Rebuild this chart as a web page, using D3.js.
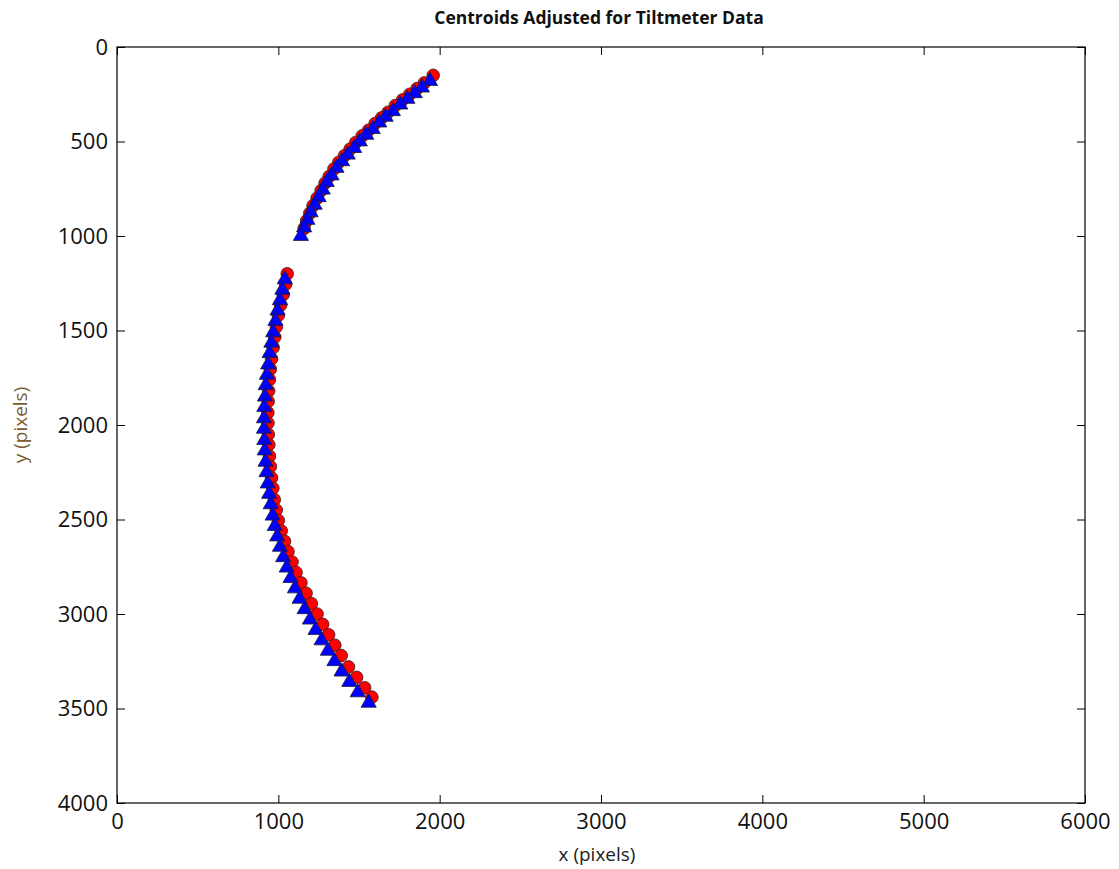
<!DOCTYPE html>
<html>
<head>
<meta charset="utf-8">
<script src="https://cdn.jsdelivr.net/npm/d3@7"></script>
<style>
  body { margin: 0; background: #fff; }
  svg { display: block; }
</style>
</head>
<body>
<svg width="1119" height="869"></svg>
<script>
// Data (centroid positions, pixel units).
const redX = [1960, 1905, 1860, 1815, 1770, 1725, 1680, 1640, 1600, 1560, 1520, 1480, 1445, 1410, 1375, 1345, 1315, 1290, 1265, 1240, 1215, 1195, 1175, 1160,
              1055, 1045, 1030, 1015, 1000, 988, 978, 968, 958, 950, 945, 940, 937, 935, 936, 938, 941, 945, 951, 958, 966, 975, 987,
              1000, 1018, 1038, 1060, 1085, 1110, 1140, 1172, 1205, 1240, 1275, 1312, 1350, 1390, 1435, 1485, 1535, 1580];
const redY = [150, 190, 220, 250, 280, 310, 345, 375, 405, 440, 470, 505, 540, 575, 610, 645, 685, 720, 760, 800, 840, 880, 920, 960,
              1200, 1255, 1310, 1365, 1420, 1480, 1535, 1590, 1650, 1705, 1760, 1820, 1875, 1935, 1990, 2050, 2105, 2165, 2220, 2280, 2335, 2395, 2450,
              2505, 2560, 2615, 2670, 2725, 2780, 2835, 2890, 2945, 3000, 3055, 3110, 3165, 3220, 3280, 3335, 3390, 3440];

const blueX = [1940, 1890, 1845, 1800, 1755, 1710, 1665, 1625, 1585, 1545, 1505, 1470, 1430, 1395, 1360, 1330, 1300, 1275, 1250, 1225, 1200, 1180, 1160, 1140,
               1040, 1025, 1010, 995, 982, 968, 957, 946, 937, 929, 922, 917, 913, 911, 911, 913, 916, 921, 927, 934, 943, 953, 965,
               978, 993, 1010, 1030, 1052, 1076, 1103, 1132, 1163, 1196, 1231, 1268, 1307, 1348, 1392, 1440, 1492, 1560];
const blueY = [180, 215, 245, 275, 305, 340, 370, 400, 435, 465, 500, 535, 570, 605, 640, 680, 715, 755, 795, 835, 875, 915, 955, 1000,
               1230, 1285, 1340, 1395, 1450, 1510, 1565, 1620, 1680, 1735, 1790, 1850, 1905, 1965, 2020, 2080, 2135, 2195, 2250, 2310, 2365, 2420, 2480,
               2535, 2590, 2645, 2700, 2755, 2810, 2865, 2920, 2975, 3030, 3085, 3140, 3195, 3250, 3305, 3360, 3415, 3470];

const xTicks = [0, 1000, 2000, 3000, 4000, 5000, 6000];
const yTicks = [0, 500, 1000, 1500, 2000, 2500, 3000, 3500, 4000];

const svg = d3.select("svg");
const margin = { top: 47, right: 34, bottom: 66, left: 117 };
const width = +svg.attr("width") - margin.left - margin.right;
const height = +svg.attr("height") - margin.top - margin.bottom;

const g = svg.append("g").attr("transform", `translate(${margin.left},${margin.top})`);

const xScale = d3.scaleLinear().domain([0, 6000]).range([0, width]);
const yScale = d3.scaleLinear().domain([0, 4000]).range([0, height]); // inverted: 0 at top

// Axes with inward ticks on all sides
const tickLen = 8;
const fmt = d3.format("d");
function styleAxis(sel) {
  sel.select(".domain").remove();
  sel.selectAll("line").attr("stroke", "#000").attr("stroke-width", 1);
  sel.selectAll("text").style("font-family", "'Open Sans'").style("font-size", "22px").attr("fill", "#111");
}

g.append("g")
 .attr("transform", `translate(0,${height})`)
 .call(d3.axisBottom(xScale).tickValues(xTicks).tickSize(-tickLen).tickPadding(tickLen + 2).tickFormat(fmt))
 .call(styleAxis);
g.append("g")
 .call(d3.axisTop(xScale).tickValues(xTicks).tickSize(-tickLen).tickFormat(""))
 .call(styleAxis);
g.append("g")
 .call(d3.axisLeft(yScale).tickValues(yTicks).tickSize(-tickLen).tickPadding(tickLen + 1).tickFormat(fmt))
 .call(styleAxis);
g.append("g")
 .attr("transform", `translate(${width},0)`)
 .call(d3.axisRight(yScale).tickValues(yTicks).tickSize(-tickLen).tickFormat(""))
 .call(styleAxis);

// Frame
g.append("rect")
 .attr("width", width).attr("height", height)
 .attr("fill", "none").attr("stroke", "#000").attr("stroke-width", 1.2);

// Red circles
const red = d3.zip(redX, redY);
g.append("g").selectAll("circle").data(red).join("circle")
 .attr("cx", d => xScale(d[0]))
 .attr("cy", d => yScale(d[1]))
 .attr("r", 6.3)
 .attr("fill", "#ff0000")
 .attr("stroke", "#331a1a")
 .attr("stroke-width", 0.8);

// Blue triangles
const blue = d3.zip(blueX, blueY);
const tri = d3.symbol().type(d3.symbolTriangle).size(100);
g.append("g").selectAll("path").data(blue).join("path")
 .attr("transform", d => `translate(${xScale(d[0])},${yScale(d[1])})`)
 .attr("d", tri)
 .attr("fill", "#0000ff")
 .attr("stroke", "#1a1a33")
 .attr("stroke-width", 0.8);

// Title and axis labels
svg.append("text")
 .attr("x", margin.left + width / 2 - 2).attr("y", 24)
 .attr("text-anchor", "middle")
 .style("font-family", "'Open Sans'").style("font-weight", "bold").style("font-size", "17.5px")
 .attr("fill", "#111")
 .text("Centroids Adjusted for Tiltmeter Data");

svg.append("text")
 .attr("x", margin.left + width / 2 - 4).attr("y", 861)
 .attr("text-anchor", "middle")
 .style("font-family", "'Open Sans'").style("font-size", "19px")
 .attr("fill", "#222")
 .text("x (pixels)");

svg.append("text")
 .attr("transform", `translate(27,${margin.top + height / 2}) rotate(-90)`)
 .attr("text-anchor", "middle")
 .style("font-family", "'Open Sans'").style("font-size", "19px")
 .attr("fill", "#7a5c2e")
 .text("y (pixels)");
</script>
</body>
</html>
